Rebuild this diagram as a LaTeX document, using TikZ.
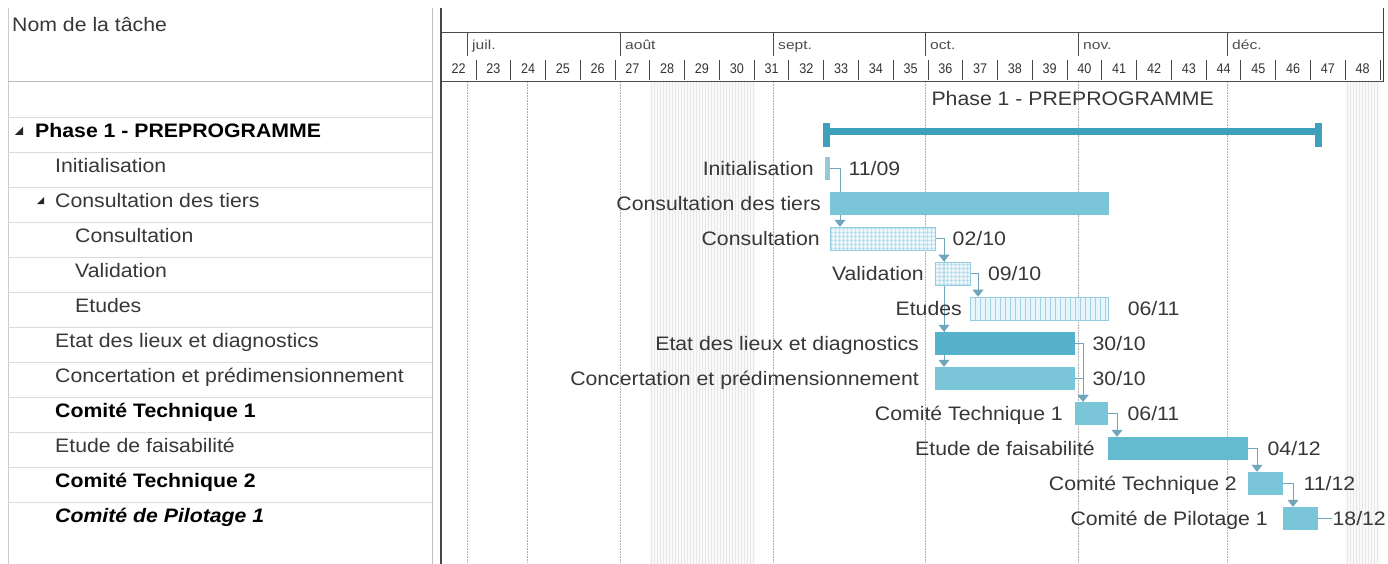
\documentclass[tikz,border=0pt]{standalone}
\usepackage{fontspec}
\newfontfamily\ganttfont{Liberation Sans}[FakeStretch=1.09]
\newfontfamily\monthfont{Liberation Sans}[FakeStretch=1.2]
\newfontfamily\weekfont{Liberation Sans}[FakeStretch=0.9]
\usetikzlibrary{positioning,arrows.meta,patterns.meta}
\pgfdeclarelayer{grid}
\pgfdeclarelayer{links}
\pgfsetlayers{grid,links,main}

\definecolor{barblue}{RGB}{122,197,216}
\definecolor{critblue}{RGB}{86,178,203}
\definecolor{feasblue}{RGB}{100,187,208}
\definecolor{phaseblue}{RGB}{62,160,186}
\definecolor{initblue}{RGB}{150,200,212}
\definecolor{hatchbg}{RGB}{224,243,249}
\definecolor{hatchline}{RGB}{160,212,228}
\definecolor{hatchedge}{RGB}{150,205,222}
\definecolor{linkblue}{RGB}{112,165,188}
\definecolor{inkgray}{RGB}{55,55,55}

\newcommand{\tasksize}{\fontsize{19.5}{22}\selectfont}

\tikzset{
  taskbar/.style={rectangle, inner sep=0pt, minimum height=23pt, anchor=west, fill=barblue},
  gridbar/.style={taskbar, draw=hatchedge, line width=0.8pt, preaction={fill=hatchbg, fill opacity=.75},
    pattern={Hatch[angle=0,distance=4pt,line width=0.5pt]}, pattern color=hatchline},
  stripebar/.style={taskbar, draw=hatchedge, line width=0.8pt, preaction={fill=hatchbg, fill opacity=.75},
    pattern={Lines[angle=90,distance=5pt,line width=0.6pt]}, pattern color=hatchline},
  barlabel/.style={inner sep=0pt, text height=14pt, text depth=0pt, text=inkgray, font=\ganttfont\tasksize},
  rowtext/.style={anchor=base west, inner sep=0pt, text=inkgray, font=\ganttfont\tasksize},
  link/.style={draw=linkblue, line width=0.8pt, -{Triangle[width=11pt,length=7pt]}},
  gridline/.style={gray!65, line width=0.6pt, densely dotted},
  rowline/.style={gray!28, line width=0.8pt},
  headline/.style={gray!60!black, line width=1pt},
  monthtick/.style={gray!60!black, line width=1pt},
  weektick/.style={gray!55!black, line width=0.9pt},
  weeknum/.style={anchor=base, inner sep=0pt, text=gray!40!black, font=\weekfont\fontsize{14}{16}\selectfont},
  monthname/.style={anchor=base west, inner sep=0pt, text=gray!60!black, font=\monthfont\fontsize{13}{15}\selectfont},
  treemark/.style={fill=gray!30!black}
}

\begin{document}
\begin{tikzpicture}[x=1pt,y=-1pt]
\useasboundingbox (0,0) rectangle (1388,564);

% Non-working weeks, shaded
\begin{pgfonlayer}{grid}
\fill[gray!5] (650,82) rectangle (755,564);
\fill[pattern={Lines[angle=90,distance=3pt,line width=0.6pt]}, pattern color=gray!18] (650,82) rectangle (755,564);
\fill[gray!5] (1345,82) rectangle (1380,564);
\fill[pattern={Lines[angle=90,distance=3pt,line width=0.6pt]}, pattern color=gray!18] (1345,82) rectangle (1380,564);

% Vertical grid lines of the chart
\draw[gridline] (467,82) -- (467,564);
\draw[gridline] (527,82) -- (527,564);
\draw[gridline] (620,82) -- (620,564);
\draw[gridline] (773,82) -- (773,564);
\draw[gridline] (925,82) -- (925,564);
\draw[gridline] (1078,82) -- (1078,564);
\draw[gridline] (1227,82) -- (1227,564);
\end{pgfonlayer}

% Task table: frame and row lines
\draw[gray!40, line width=0.8pt] (8,8) -- (8,564);
\draw[gray!50, line width=1pt] (432,8) -- (432,564);
\draw[gray!55!black, line width=1.6pt] (441,8) -- (441,564);
\draw[gray!55, line width=1pt] (8,82) -- (432,82);
\draw[rowline] (8,117) -- (432,117);
\draw[rowline] (8,152) -- (432,152);
\draw[rowline] (8,187) -- (432,187);
\draw[rowline] (8,222) -- (432,222);
\draw[rowline] (8,257) -- (432,257);
\draw[rowline] (8,292) -- (432,292);
\draw[rowline] (8,327) -- (432,327);
\draw[rowline] (8,362) -- (432,362);
\draw[rowline] (8,397) -- (432,397);
\draw[rowline] (8,432) -- (432,432);
\draw[rowline] (8,467) -- (432,467);
\draw[rowline] (8,502) -- (432,502);

% Task table: names
\node[rowtext] (hd-name) at (12,32) {Nom de la tâche};
\fill[treemark] (23,127) -- (23,135) -- (15,135) -- cycle;
\node[rowtext, font=\ganttfont\tasksize\bfseries, text=black] (tn-phase) at (35,137.5) {Phase 1 - PREPROGRAMME};
\node[rowtext] (tn-init) at (55,172.5) {Initialisation};
\fill[treemark] (44,197) -- (44,204) -- (37,204) -- cycle;
\node[rowtext] (tn-tiers) at (55,207.5) {Consultation des tiers};
\node[rowtext] (tn-consult) at (75,242.5) {Consultation};
\node[rowtext] (tn-valid) at (75,277.5) {Validation};
\node[rowtext] (tn-etudes) at (75,312.5) {Etudes};
\node[rowtext] (tn-etat) at (55,347.5) {Etat des lieux et diagnostics};
\node[rowtext] (tn-concert) at (55,382.5) {Concertation et prédimensionnement};
\node[rowtext, font=\ganttfont\tasksize\bfseries, text=black] (tn-ct1) at (55,417.5) {Comité Technique 1};
\node[rowtext] (tn-feas) at (55,452.5) {Etude de faisabilité};
\node[rowtext, font=\ganttfont\tasksize\bfseries, text=black] (tn-ct2) at (55,487.5) {Comité Technique 2};
\node[rowtext, font=\ganttfont\tasksize\bfseries\itshape, text=black] (tn-cp1) at (55,522.5) {Comité de Pilotage 1};

% Timescale: frame and months
\draw[headline] (441,33) -- (1383,33);
\draw[headline] (441,82) -- (1383,82);
\draw[gray!50!black, line width=1pt] (1383,8) -- (1383,82);
\draw[monthtick] (467,33) -- (467,56);
\node[monthname] (mo-jul) at (472,50) {juil.};
\draw[monthtick] (620,33) -- (620,56);
\node[monthname] (mo-aug) at (625,50) {août};
\draw[monthtick] (773,33) -- (773,56);
\node[monthname] (mo-sep) at (778,50) {sept.};
\draw[monthtick] (925,33) -- (925,56);
\node[monthname] (mo-oct) at (930,50) {oct.};
\draw[monthtick] (1078,33) -- (1078,56);
\node[monthname] (mo-nov) at (1083,50) {nov.};
\draw[monthtick] (1227,33) -- (1227,56);
\node[monthname] (mo-dec) at (1232,50) {déc.};

% Timescale: weeks
\node[weeknum] (wk22) at (458.59,74) {22};
\draw[weektick] (475.97,60) -- (475.97,80); \node[weeknum] (wk23) at (493.36,74) {23};
\draw[weektick] (510.74,60) -- (510.74,80); \node[weeknum] (wk24) at (528.13,74) {24};
\draw[weektick] (545.51,60) -- (545.51,80); \node[weeknum] (wk25) at (562.90,74) {25};
\draw[weektick] (580.28,60) -- (580.28,80); \node[weeknum] (wk26) at (597.67,74) {26};
\draw[weektick] (615.05,60) -- (615.05,80); \node[weeknum] (wk27) at (632.44,74) {27};
\draw[weektick] (649.82,60) -- (649.82,80); \node[weeknum] (wk28) at (667.21,74) {28};
\draw[weektick] (684.59,60) -- (684.59,80); \node[weeknum] (wk29) at (701.98,74) {29};
\draw[weektick] (719.36,60) -- (719.36,80); \node[weeknum] (wk30) at (736.75,74) {30};
\draw[weektick] (754.13,60) -- (754.13,80); \node[weeknum] (wk31) at (771.52,74) {31};
\draw[weektick] (788.90,60) -- (788.90,80); \node[weeknum] (wk32) at (806.29,74) {32};
\draw[weektick] (823.67,60) -- (823.67,80); \node[weeknum] (wk33) at (841.06,74) {33};
\draw[weektick] (858.44,60) -- (858.44,80); \node[weeknum] (wk34) at (875.83,74) {34};
\draw[weektick] (893.21,60) -- (893.21,80); \node[weeknum] (wk35) at (910.60,74) {35};
\draw[weektick] (927.98,60) -- (927.98,80); \node[weeknum] (wk36) at (945.37,74) {36};
\draw[weektick] (962.75,60) -- (962.75,80); \node[weeknum] (wk37) at (980.14,74) {37};
\draw[weektick] (997.52,60) -- (997.52,80); \node[weeknum] (wk38) at (1014.91,74) {38};
\draw[weektick] (1032.29,60) -- (1032.29,80); \node[weeknum] (wk39) at (1049.68,74) {39};
\draw[weektick] (1067.06,60) -- (1067.06,80); \node[weeknum] (wk40) at (1084.45,74) {40};
\draw[weektick] (1101.83,60) -- (1101.83,80); \node[weeknum] (wk41) at (1119.22,74) {41};
\draw[weektick] (1136.60,60) -- (1136.60,80); \node[weeknum] (wk42) at (1153.99,74) {42};
\draw[weektick] (1171.37,60) -- (1171.37,80); \node[weeknum] (wk43) at (1188.76,74) {43};
\draw[weektick] (1206.14,60) -- (1206.14,80); \node[weeknum] (wk44) at (1223.53,74) {44};
\draw[weektick] (1240.91,60) -- (1240.91,80); \node[weeknum] (wk45) at (1258.30,74) {45};
\draw[weektick] (1275.68,60) -- (1275.68,80); \node[weeknum] (wk46) at (1293.07,74) {46};
\draw[weektick] (1310.45,60) -- (1310.45,80); \node[weeknum] (wk47) at (1327.84,74) {47};
\draw[weektick] (1345.22,60) -- (1345.22,80); \node[weeknum] (wk48) at (1362.61,74) {48};
\draw[weektick] (1379.99,60) -- (1379.99,80);

% Summary bar of the phase
\node[taskbar, fill=phaseblue, minimum height=7pt, minimum width=499pt] (phase) at (823,131.5) {};
\fill[phaseblue] (phase.north west) ++(0,-5) rectangle ++(7,24);
\fill[phaseblue] (phase.north east) ++(-7,-5) rectangle ++(7,24);
\node[barlabel, above=22pt of phase] (phase-l) {Phase 1 - PREPROGRAMME};

% Task bars
\node[taskbar, fill=initblue, minimum width=5pt] (init) at (825,168.5) {};
\node[taskbar, minimum width=279pt] (tiers) at (830,203.5) {};
\node[gridbar, minimum width=105pt] (consult) at (830,238.5) {};
\node[gridbar, minimum width=35pt] (valid) at (935,273.5) {};
\node[stripebar, minimum width=138pt] (etudes) at (970,308.5) {};
\node[taskbar, fill=critblue, minimum width=140pt] (etat) at (935,343.5) {};
\node[taskbar, minimum width=140pt] (concert) at (935,378.5) {};
\node[taskbar, minimum width=33pt] (ct1) at (1075,413.5) {};
\node[taskbar, fill=feasblue, minimum width=140pt] (feas) at (1108,448.5) {};
\node[taskbar, minimum width=35pt] (ct2) at (1248,483.5) {};
\node[taskbar, minimum width=35pt] (cp1) at (1283,518.5) {};

% Bar names, left of the bars
\node[barlabel, left=11pt of init] (init-l) {Initialisation};
\node[barlabel, left=9pt of tiers] (tiers-l) {Consultation des tiers};
\node[barlabel, left=10pt of consult] (consult-l) {Consultation};
\node[barlabel, left=11pt of valid] (valid-l) {Validation};
\node[barlabel, left=8pt of etudes] (etudes-l) {Etudes};
\node[barlabel, left=16pt of etat] (etat-l) {Etat des lieux et diagnostics};
\node[barlabel, left=16pt of concert] (concert-l) {Concertation et prédimensionnement};
\node[barlabel, left=12pt of ct1] (ct1-l) {Comité Technique 1};
\node[barlabel, left=13pt of feas] (feas-l) {Etude de faisabilité};
\node[barlabel, left=11pt of ct2] (ct2-l) {Comité Technique 2};
\node[barlabel, left=15pt of cp1] (cp1-l) {Comité de Pilotage 1};

% Finish dates, right of the bars
\node[barlabel, right=18pt of init] (init-d) {11/09};
\node[barlabel, right=17pt of consult] (consult-d) {02/10};
\node[barlabel, right=17pt of valid] (valid-d) {09/10};
\node[barlabel, right=19pt of etudes] (etudes-d) {06/11};
\node[barlabel, right=17pt of etat] (etat-d) {30/10};
\node[barlabel, right=17pt of concert] (concert-d) {30/10};
\node[barlabel, right=19pt of ct1] (ct1-d) {06/11};
\node[barlabel, right=19pt of feas] (feas-d) {04/12};
\node[barlabel, right=20pt of ct2] (ct2-d) {11/12};
\node[barlabel, right=14pt of cp1] (cp1-d) {18/12};
\draw[linkblue, line width=0.6pt] (cp1.east) -- (cp1-d.west);

% Links between tasks, behind the bars
\begin{pgfonlayer}{links}
\draw[link] (init.east) -| ([xshift=10pt]consult.north west);
\draw[link] (consult.east) -| ([xshift=9pt]valid.north west);
\draw[link] (consult.east) -| ([xshift=9pt]etat.north west);
\draw[link] (consult.east) -| ([xshift=9pt]concert.north west);
\draw[link] (valid.east) -| ([xshift=8pt]etudes.north west);
\draw[link] (etat.east) -| ([xshift=8pt]ct1.north west);
\draw[link] (concert.east) -| ([xshift=8pt]ct1.north west);
\draw[link] (ct1.east) -| ([xshift=9pt]feas.north west);
\draw[link] (feas.east) -| ([xshift=9pt]ct2.north west);
\draw[link] (ct2.east) -| ([xshift=10pt]cp1.north west);
\end{pgfonlayer}
\end{tikzpicture}
\end{document}
